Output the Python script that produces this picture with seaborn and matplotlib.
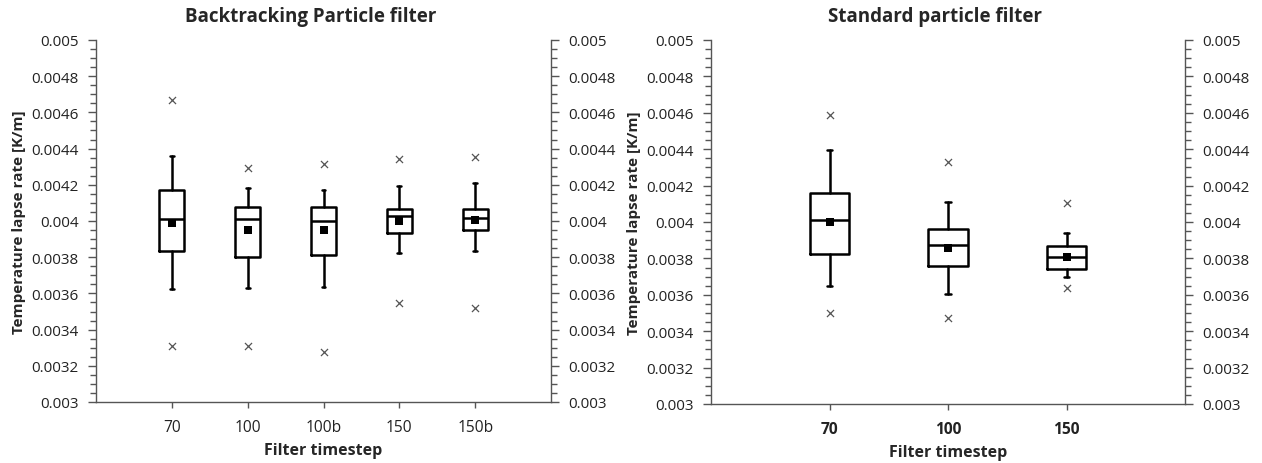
import numpy as np
import pandas as pd
import matplotlib
matplotlib.use("Agg")
import matplotlib.pyplot as plt
from matplotlib.ticker import FixedLocator, MultipleLocator
import seaborn as sns

# ---------------- data ----------------
bt_categories = ["70", "100", "100b", "150", "150b"]
bt_whisker_low = [0.003624, 0.003630, 0.003637, 0.003822, 0.003833]
bt_q1 = [0.003836, 0.003800, 0.003814, 0.003935, 0.003952]
bt_median = [0.004010, 0.004010, 0.004000, 0.004028, 0.004018]
bt_q3 = [0.004170, 0.004079, 0.004079, 0.004068, 0.004068]
bt_whisker_high = [0.004360, 0.004182, 0.004170, 0.004195, 0.004212]
bt_mean = [0.003990, 0.003950, 0.003950, 0.004000, 0.004005]
bt_min = [0.003308, 0.003308, 0.003278, 0.003547, 0.003521]
bt_max = [0.004670, 0.004291, 0.004315, 0.004344, 0.004352]

std_categories = ["70", "100", "150"]
std_whisker_low = [0.003650, 0.003606, 0.003698]
std_q1 = [0.003826, 0.003757, 0.003740]
std_median = [0.004011, 0.003875, 0.003809]
std_q3 = [0.004158, 0.003960, 0.003870]
std_whisker_high = [0.004394, 0.004112, 0.003938]
std_mean = [0.003998, 0.003855, 0.003808]
std_min = [0.003500, 0.003474, 0.003639]
std_max = [0.004588, 0.004330, 0.004104]

y_ticks = [0.003, 0.0032, 0.0034, 0.0036, 0.0038, 0.004, 0.0042, 0.0044, 0.0046, 0.0048, 0.005]
y_tick_labels = ["0.003", "0.0032", "0.0034", "0.0036", "0.0038", "0.004",
                 "0.0042", "0.0044", "0.0046", "0.0048", "0.005"]

title_left = "Backtracking Particle filter"
title_right = "Standard particle filter"
x_label = "Filter timestep"
y_label = "Temperature lapse rate [K/m]"

# ---------------- style ----------------
sns.set_style("ticks")
plt.rcParams["font.family"] = ["Open Sans", "DejaVu Sans"]
plt.rcParams["axes.edgecolor"] = "#555555"
plt.rcParams["xtick.color"] = "#555555"
plt.rcParams["ytick.color"] = "#555555"
plt.rcParams["xtick.labelcolor"] = "#222222"
plt.rcParams["ytick.labelcolor"] = "#222222"

fig = plt.figure(figsize=(12.62, 4.64), dpi=100)
ax_l = fig.add_axes([96 / 1262, 61 / 464, 455 / 1262, 362 / 464])
ax_r = fig.add_axes([711 / 1262, 59 / 464, 474 / 1262, 364 / 464])

line_kw = dict(color="black", linewidth=1.8)


def draw_panel(ax, cats, wlo, q1, med, q3, whi, mean, mn, mx, title, bold_xticks):
    n = len(cats)
    pos = np.arange(n)
    stats = []
    for i in range(n):
        stats.append(dict(label=cats[i], whislo=wlo[i], q1=q1[i], med=med[i],
                          q3=q3[i], whishi=whi[i], fliers=[]))
    ax.bxp(stats, positions=pos, widths=0.33, showfliers=False, showmeans=False,
           capwidths=0.05, patch_artist=False,
           boxprops=line_kw, whiskerprops=line_kw, capprops=line_kw,
           medianprops=line_kw, manage_ticks=False)

    df_mean = pd.DataFrame({"x": pos, "y": mean})
    sns.scatterplot(data=df_mean, x="x", y="y", ax=ax, marker="s", color="black",
                    s=40, linewidth=0, zorder=5)
    df_ext = pd.DataFrame({"x": np.concatenate([pos, pos]), "y": list(mn) + list(mx)})
    sns.scatterplot(data=df_ext, x="x", y="y", ax=ax, marker="x", color="#555555",
                    s=26, linewidth=0.9, zorder=5)

    ax.set_xlim(-1, n)
    ax.set_ylim(0.003, 0.005)
    ax.xaxis.set_major_locator(FixedLocator(pos))
    ax.set_xticklabels(cats, fontsize=11.2,
                       fontweight="bold" if bold_xticks else "normal")
    ax.yaxis.set_major_locator(FixedLocator(y_ticks))
    ax.set_yticklabels(y_tick_labels, fontsize=11)
    ax.yaxis.set_minor_locator(MultipleLocator(0.00005))
    ax.tick_params(axis="y", which="both", left=True, right=True,
                   labelleft=True, labelright=True, direction="out")
    ax.tick_params(axis="y", which="major", length=6, width=1, pad=6.5)
    ax.tick_params(axis="y", which="minor", length=4, width=1)
    ax.tick_params(axis="x", which="both", top=False, bottom=True,
                   direction="out", length=4, width=1, pad=8)
    ax.spines["top"].set_visible(False)
    for s in ["left", "right", "bottom"]:
        ax.spines[s].set_visible(True)
        ax.spines[s].set_linewidth(1.0)
    ax.set_xlabel(x_label, fontsize=11.5, fontweight="bold", labelpad=5)
    ax.set_ylabel(y_label, fontsize=11, fontweight="bold", labelpad=4)
    ax.set_title(title, fontsize=13.5, fontweight="bold", pad=14, x=0.4725)


draw_panel(ax_l, bt_categories, bt_whisker_low, bt_q1, bt_median, bt_q3,
           bt_whisker_high, bt_mean, bt_min, bt_max, title_left, False)
draw_panel(ax_r, std_categories, std_whisker_low, std_q1, std_median, std_q3,
           std_whisker_high, std_mean, std_min, std_max, title_right, True)

fig.savefig("out.png", dpi=100, facecolor="white")
